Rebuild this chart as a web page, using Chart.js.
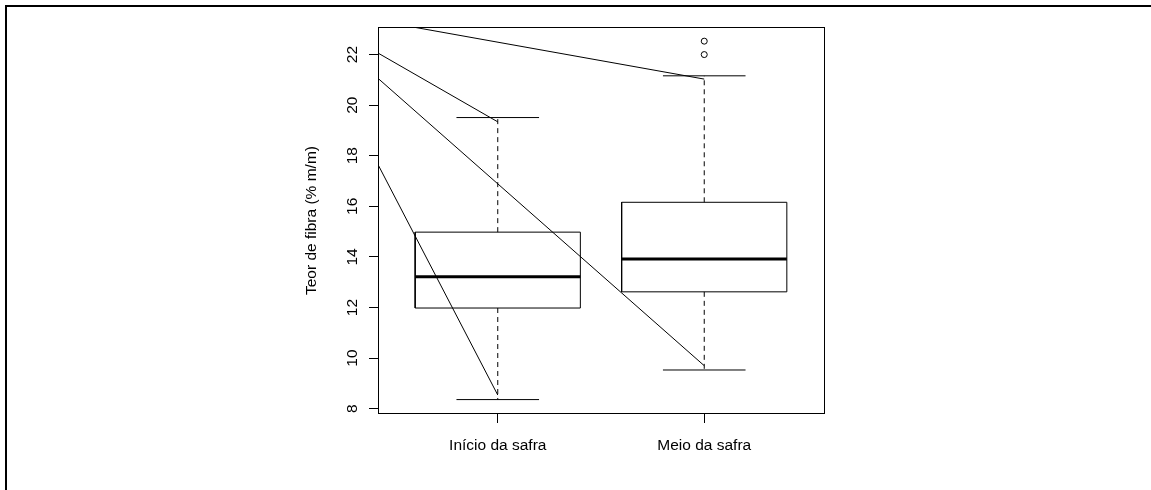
<!DOCTYPE html>
<html>
<head>
<meta charset="utf-8">
<script src="https://cdn.jsdelivr.net/npm/chart.js@4"></script>
<style>
  html, body { margin: 0; padding: 0; background: #fff; }
  #wrap { position: relative; width: 1151px; height: 490px; overflow: hidden; }
  #frame { position: absolute; left: 5px; top: 5px; right: -10px; bottom: -10px;
           border-top: 2px solid #000; border-left: 2px solid #000; pointer-events: none; }
  canvas { display: block; }
</style>
</head>
<body>
<div id="wrap">
  <canvas id="c" width="1151" height="490"></canvas>
  <div id="frame"></div>
</div>
<script>
// Box-plot statistics per group
const categories  = ['Início da safra', 'Meio da safra'];
const whiskerLow  = [8.36, 9.53];
const lowerHinge  = [11.98, 12.62];
const medians     = [13.22, 13.92];
const upperHinge  = [14.98, 16.16];
const whiskerHigh = [19.51, 21.16];
const outliers    = [[], [22.0, 22.53]];
const yTicks      = [8, 10, 12, 14, 16, 18, 20, 22];

// Straight reference lines laid over the boxes (start and end points)
const guideStartX = [0, 0, 0, 0];
const guideStartY = [23.95, 24.03, 24.08, 24.25];
const guideEndX   = [2, 1, 2, 1];
const guideEndY   = [21.03, 19.34, 9.70, 8.54];

const BOX_HALF = 0.4;
const STAPLE_HALF = 0.2;
const FONT = { family: '"Liberation Sans", Arial, sans-serif', size: 15.5 };

function segment(points, extra) {
  return Object.assign({
    data: points, showLine: true, borderColor: '#000', borderWidth: 1,
    pointRadius: 0, pointHoverRadius: 0, fill: false, tension: 0
  }, extra || {});
}

const datasets = [];
categories.forEach((name, i) => {
  const x = i + 1;
  // box
  datasets.push(segment([
    { x: x - BOX_HALF, y: lowerHinge[i] }, { x: x + BOX_HALF, y: lowerHinge[i] },
    { x: x + BOX_HALF, y: upperHinge[i] }, { x: x - BOX_HALF, y: upperHinge[i] },
    { x: x - BOX_HALF, y: lowerHinge[i] }
  ]));
  // median
  datasets.push(segment([{ x: x - BOX_HALF, y: medians[i] }, { x: x + BOX_HALF, y: medians[i] }],
    { borderWidth: 3 }));
  // whiskers
  datasets.push(segment([{ x: x, y: upperHinge[i] }, { x: x, y: whiskerHigh[i] }], { borderDash: [5, 4] }));
  datasets.push(segment([{ x: x, y: lowerHinge[i] }, { x: x, y: whiskerLow[i] }], { borderDash: [5, 4] }));
  // staples
  datasets.push(segment([{ x: x - STAPLE_HALF, y: whiskerHigh[i] }, { x: x + STAPLE_HALF, y: whiskerHigh[i] }]));
  datasets.push(segment([{ x: x - STAPLE_HALF, y: whiskerLow[i] }, { x: x + STAPLE_HALF, y: whiskerLow[i] }]));
  // outliers
  if (outliers[i].length) {
    datasets.push({
      data: outliers[i].map(v => ({ x: x, y: v })), showLine: false,
      pointStyle: 'circle', pointRadius: 3, pointHoverRadius: 3,
      pointBorderColor: '#000', pointBackgroundColor: 'rgba(0,0,0,0)', pointBorderWidth: 1
    });
  }
});
guideStartY.forEach((y0, k) => {
  datasets.push(segment([{ x: guideStartX[k], y: y0 }, { x: guideEndX[k], y: guideEndY[k] }]));
});

// Rectangle round the plotting region
const plotFrame = {
  id: 'plotFrame',
  afterDatasetsDraw(chart) {
    const { ctx, chartArea: a } = chart;
    ctx.save();
    ctx.strokeStyle = '#000';
    ctx.lineWidth = 1;
    ctx.strokeRect(Math.round(a.left) + 0.5, Math.round(a.top) + 0.5,
                   Math.round(a.right - a.left), Math.round(a.bottom - a.top) - 1);
    ctx.restore();
  }
};

new Chart(document.getElementById('c'), {
  type: 'scatter',
  data: { datasets },
  plugins: [plotFrame],
  options: {
    responsive: false,
    animation: false,
    events: [],
    layout: { padding: { left: 290, top: 27, right: 327, bottom: 0 } },
    plugins: { legend: { display: false }, tooltip: { enabled: false } },
    scales: {
      x: {
        type: 'linear', min: 0.42, max: 2.58,
        afterBuildTicks: s => { s.ticks = categories.map((_, i) => ({ value: i + 1 })); },
        afterFit: s => { s.height = 76; },
        grid: { display: true, drawOnChartArea: false, drawTicks: true, tickLength: 9, color: '#000', lineWidth: 1 },
        border: { display: false },
        ticks: {
          autoSkip: false, minRotation: 0, maxRotation: 0, padding: 13, color: '#000', font: FONT,
          callback: (v, i) => categories[i]
        }
      },
      y: {
        type: 'linear', min: 7.79, max: 23.09,
        afterBuildTicks: s => { s.ticks = yTicks.map(v => ({ value: v })); },
        afterFit: s => { s.width = 88; },
        grid: { display: true, drawOnChartArea: false, drawTicks: true, tickLength: 9, color: '#000', lineWidth: 1 },
        border: { display: false },
        ticks: {
          autoSkip: false, minRotation: 90, maxRotation: 90, crossAlign: 'center',
          padding: 8, color: '#000', font: FONT
        },
        title: {
          display: true, text: 'Teor de fibra (% m/m)', color: '#000', font: FONT,
          padding: { top: 12, bottom: 0 }
        }
      }
    }
  }
});
</script>
</body>
</html>
